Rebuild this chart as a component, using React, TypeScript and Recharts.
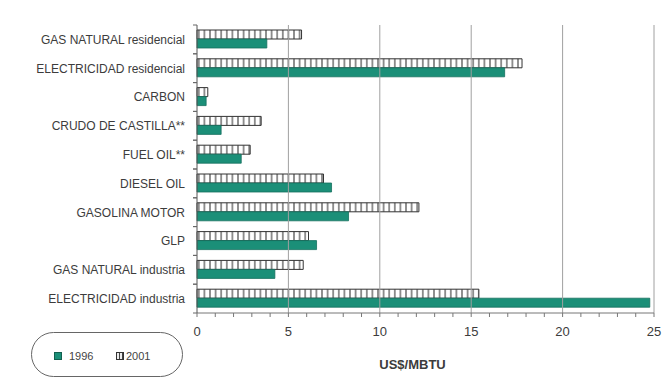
import React from 'react';
import { BarChart, Bar, XAxis, YAxis, ReferenceLine, Legend } from 'recharts';

const categories = [
  'GAS NATURAL residencial',
  'ELECTRICIDAD residencial',
  'CARBON',
  'CRUDO DE CASTILLA**',
  'FUEL OIL**',
  'DIESEL OIL',
  'GASOLINA MOTOR',
  'GLP',
  'GAS NATURAL industria',
  'ELECTRICIDAD industria',
];
const values1996 = [3.82, 16.83, 0.5, 1.32, 2.42, 7.36, 8.29, 6.54, 4.26, 24.77];
const values2001 = [5.72, 17.78, 0.59, 3.51, 2.91, 6.92, 12.14, 6.1, 5.81, 15.42];
const xTicks = [0, 1, 2, 3, 4, 5, 6, 7, 8, 9, 10, 11, 12, 13, 14, 15, 16, 17, 18, 19, 20, 21, 22, 23, 24, 25];
const majorTicks = [0, 5, 10, 15, 20, 25];
const gridTicks = [5, 10, 15, 20, 25];
const seriesLabels = ['1996', '2001'];
const axisTitle = 'US$/MBTU';

const data = categories.map((name, i) => ({ name, v1996: values1996[i], v2001: values2001[i] }));

const TEAL = '#1b8f78';
const FONT = '"Liberation Sans", Arial, sans-serif';

const YTick = (props: any) => {
  const { x, y, payload } = props;
  const off = payload && payload.offset ? payload.offset : 0;
  const ax = x + 12;
  return (
    <g>
      <text x={x} y={y} dy="0.36em" textAnchor="end" fontSize={12} fill="#3c3c3c" fontFamily={FONT}>
        {payload.value}
      </text>
      <line x1={ax - 4} x2={ax} y1={y - off} y2={y - off} stroke="#666" strokeWidth={1} />
      <line x1={ax - 4} x2={ax} y1={y + off} y2={y + off} stroke="#666" strokeWidth={1} />
    </g>
  );
};

const XTick = (props: any) => {
  const { x, y, payload } = props;
  if (!majorTicks.includes(payload.value)) return <g />;
  return (
    <text x={x} y={y} dy="0.71em" textAnchor="middle" fontSize={13} fill="#3c3c3c" fontFamily={FONT}>
      {payload.value}
    </text>
  );
};

const LegendBox = () => (
  <svg width={153} height={46} style={{ display: 'block' }}>
    <defs>
      <pattern id="hatchLegend" width="3" height="10" patternUnits="userSpaceOnUse">
        <rect width="3" height="10" fill="#fff" />
        <line x1="1.5" y1="0" x2="1.5" y2="10" stroke="#444" strokeWidth={1.2} />
      </pattern>
    </defs>
    <rect x={0.5} y={0.5} width={151} height={44} rx={22} ry={22} fill="#fff" stroke="#666" strokeWidth={1} />
    <rect x={23.5} y={20.5} width={7} height={7} fill={TEAL} stroke="#13604f" strokeWidth={1} />
    <text x={38} y={24} dy="0.36em" fontSize={11} fill="#444" fontFamily={FONT}>{seriesLabels[0]}</text>
    <rect x={85.5} y={20.5} width={7} height={7} fill="url(#hatchLegend)" stroke="#333" strokeWidth={1} />
    <text x={95} y={24} dy="0.36em" fontSize={11} fill="#444" fontFamily={FONT}>{seriesLabels[1]}</text>
  </svg>
);

export default function App() {
  return (
    <div style={{ position: 'absolute', left: 0, top: 0, width: 663, height: 392, background: '#fff' }}>
      <BarChart
        width={663}
        height={392}
        data={data}
        layout="vertical"
        margin={{ top: 25, right: 9, left: 0, bottom: 23 }}
        barGap={0}
      >
        <defs>
          <pattern id="hatch" width="5.6" height="20" patternUnits="userSpaceOnUse">
            <rect width="5.6" height="20" fill="#fff" />
            <line x1="2.8" y1="0" x2="2.8" y2="20" stroke="#3a3a3a" strokeWidth={1.1} />
          </pattern>
        </defs>
        <XAxis
          type="number"
          domain={[0, 25]}
          ticks={xTicks}
          interval={0}
          tick={<XTick />}
          tickSize={4}
          tickMargin={10}
          tickLine={{ stroke: '#777' }}
          axisLine={{ stroke: '#777' }}
          height={56}
          label={{ value: axisTitle, position: 'insideBottom', offset: 0, dx: -13, fontSize: 13, fontWeight: 'bold', fill: '#3c3c3c', fontFamily: FONT }}
        />
        <XAxis
          xAxisId="top"
          orientation="top"
          type="number"
          domain={[0, 25]}
          tick={false}
          tickLine={false}
          height={0}
          axisLine={{ stroke: '#aaa' }}
        />
        <YAxis
          type="category"
          dataKey="name"
          width={197}
          tickLine={false}
          tickSize={4}
          tickMargin={8}
          interval={0}
          tick={<YTick />}
          axisLine={{ stroke: '#555' }}
        />
        {gridTicks.map((t) => (
          <ReferenceLine key={t} x={t} stroke="#a0a0a0" strokeWidth={1} />
        ))}
        <Legend
          layout="horizontal"
          verticalAlign="middle"
          align="center"
          content={() => <LegendBox />}
          wrapperStyle={{ position: 'absolute', left: 31, top: 332, width: 153, height: 46 }}
        />
        <Bar dataKey="v2001" name={seriesLabels[1]} fill="url(#hatch)" stroke="#333" strokeWidth={1} barSize={9} isAnimationActive={false} />
        <Bar dataKey="v1996" name={seriesLabels[0]} fill={TEAL} stroke="#15705e" strokeWidth={0.8} barSize={9} isAnimationActive={false} />
      </BarChart>
    </div>
  );
}
